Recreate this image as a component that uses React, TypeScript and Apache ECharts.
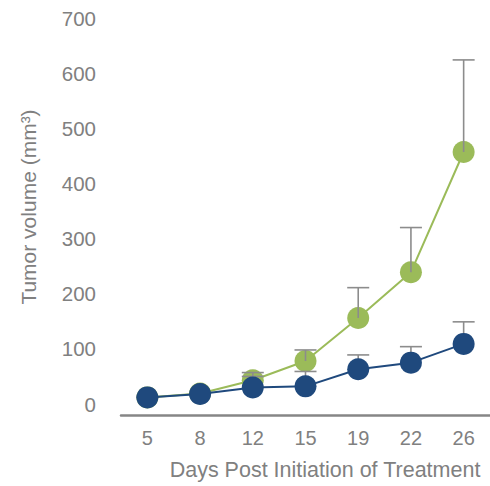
import React, { useEffect, useRef } from "react";
import * as echarts from "echarts";

const days = ["5", "8", "12", "15", "19", "22", "26"];
const greenValues = [12, 19, 43, 78, 156, 239, 457];
const greenErrTop = [12, 19, 57, 98, 211, 320, 624];
const blueValues = [12, 18, 30, 32, 63, 75, 109];
const blueErrTop = [12, 18, 50, 59, 89, 104, 149];
const yTicks = [0, 100, 200, 300, 400, 500, 600, 700];

const GREEN = "#9BBB59";
const BLUE = "#1F497D";
const GRAY = "#808080";
const FONT = "Liberation Sans, Arial, sans-serif";

export default function App() {
  const ref = useRef<HTMLDivElement>(null);
  useEffect(() => {
    const chart = echarts.init(ref.current!, null, { renderer: "svg" });
    const errData: number[][] = [];
    days.forEach((_, i) => {
      errData.push([i, greenValues[i], greenErrTop[i]]);
      errData.push([i, blueValues[i], blueErrTop[i]]);
    });
    chart.setOption({
      animation: false,
      grid: { left: 121, top: 18, width: 383, height: 386 },
      xAxis: {
        type: "category",
        data: days,
        boundaryGap: true,
        offset: 11,
        axisLine: { show: true, onZero: false, lineStyle: { color: "#868686", width: 2.5 } },
        axisTick: { show: false },
        axisLabel: { color: GRAY, fontSize: 20, fontFamily: FONT, margin: 13 },
      },
      yAxis: {
        type: "value",
        min: yTicks[0],
        max: yTicks[yTicks.length - 1],
        interval: 100,
        axisLine: { show: false },
        axisTick: { show: false },
        splitLine: { show: false },
        axisLabel: { color: GRAY, fontSize: 20.5, fontFamily: FONT, margin: 25 },
      },
      graphic: [
        {
          type: "text",
          x: 325,
          y: 470,
          style: {
            text: "Days Post Initiation of Treatment",
            fill: GRAY,
            font: `21.5px ${FONT}`,
            align: "center",
            verticalAlign: "middle",
          },
        },
        {
          type: "text",
          x: 28,
          y: 207,
          rotation: Math.PI / 2,
          style: {
            text: "Tumor volume (mm³)",
            fill: GRAY,
            font: `21px ${FONT}`,
            align: "center",
            verticalAlign: "middle",
          },
        },
      ],
      series: [
        {
          type: "line",
          data: greenValues,
          z: 2,
          symbol: "circle",
          symbolSize: 22,
          lineStyle: { color: GREEN, width: 2 },
          itemStyle: { color: GREEN },
        },
        {
          type: "custom",
          z: 3,
          data: errData,
          renderItem: (params: any, api: any) => {
            const i = api.value(0);
            const p0 = api.coord([i, api.value(1)]);
            const p1 = api.coord([i, api.value(2)]);
            const style = { stroke: "#8c8c8c", lineWidth: 1.6 };
            return {
              type: "group",
              children: [
                { type: "line", shape: { x1: p0[0], y1: p0[1], x2: p1[0], y2: p1[1] }, style },
                { type: "line", shape: { x1: p1[0] - 11, y1: p1[1], x2: p1[0] + 11, y2: p1[1] }, style },
              ],
            };
          },
        },
        {
          type: "line",
          data: blueValues,
          z: 4,
          symbol: "circle",
          symbolSize: 22,
          lineStyle: { color: BLUE, width: 2 },
          itemStyle: { color: BLUE },
        },
      ],
    });
    return () => chart.dispose();
  }, []);
  return <div ref={ref} style={{ width: 490, height: 486, position: "absolute", left: 0, top: 0 }} />;
}
